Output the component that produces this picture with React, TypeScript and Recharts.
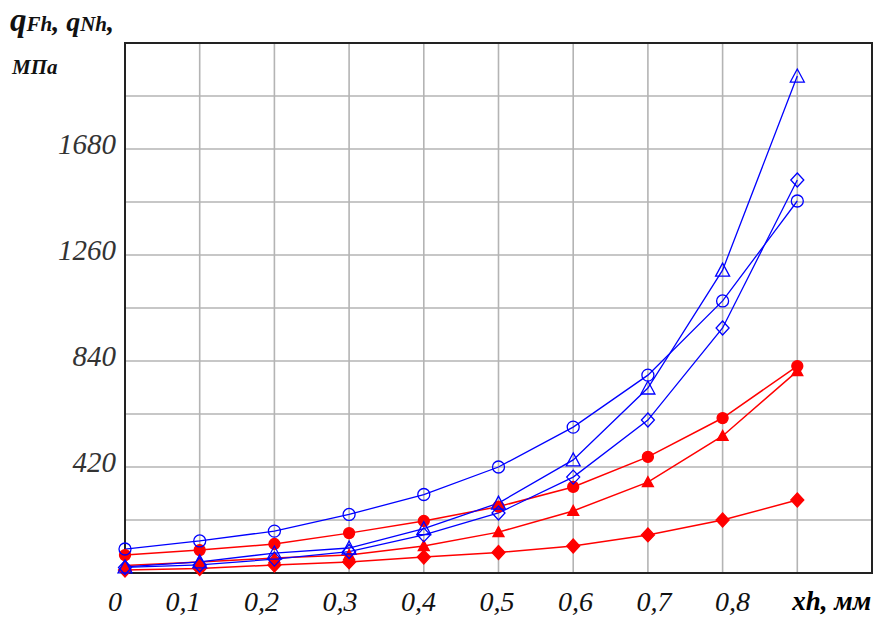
import * as React from "react"
import { LineChart, Line, XAxis, YAxis, CartesianGrid, ReferenceArea } from "recharts"

// xh, mm
const xValues = [0, 0.1, 0.2, 0.3, 0.4, 0.5, 0.6, 0.7, 0.8, 0.9]
const xTicks = [0, 0.1, 0.2, 0.3, 0.4, 0.5, 0.6, 0.7, 0.8, 0.9, 1.0]
const yTicks = [0, 210, 420, 630, 840, 1050, 1260, 1470, 1680, 1890, 2100]
const yLabels = [420, 840, 1260, 1680]

// blue (hollow markers)
const blueCircle = [95, 127, 166, 232, 311, 420, 578, 784, 1078, 1474]
const blueTriangle = [24, 44, 79, 99, 176, 277, 448, 733, 1200, 1969]
const blueDiamond = [22, 32, 55, 85, 151, 238, 380, 606, 971, 1557]
// red (filled markers)
const redCircle = [71, 91, 115, 158, 206, 263, 341, 460, 614, 820]
const redTriangle = [30, 44, 59, 71, 107, 162, 246, 360, 543, 800]
const redDiamond = [12, 18, 32, 44, 63, 81, 107, 151, 210, 289]

const chartData = xValues.map((x, i) => ({
    x,
    bc: blueCircle[i],
    bt: blueTriangle[i],
    bd: blueDiamond[i],
    rc: redCircle[i],
    rt: redTriangle[i],
    rd: redDiamond[i],
}))

const BLUE = "#0000ff"
const RED = "#ff0000"
const FONT = "'Liberation Serif', 'Times New Roman', serif"

type Kind = "circle" | "triangle" | "diamond"

const makeDot = (kind: Kind, color: string, filled: boolean) => (props: any) => {
    const { cx, cy, index } = props
    if (cx == null || cy == null) return <g key={index} />
    const fill = filled ? color : "none"
    const sw = 1.3
    if (kind === "circle") {
        return <circle key={index} cx={cx} cy={cy} r={filled ? 5.5 : 6} fill={fill} stroke={color} strokeWidth={sw} />
    }
    if (kind === "triangle") {
        const w = filled ? 5.5 : 7
        const pts = `${cx},${cy - w} ${cx - w},${cy + w - 1} ${cx + w},${cy + w - 1}`
        return <polygon key={index} points={pts} fill={fill} stroke={color} strokeWidth={sw} />
    }
    const pts = `${cx},${cy - 7} ${cx + 6.5},${cy} ${cx},${cy + 7} ${cx - 6.5},${cy}`
    return <polygon key={index} points={pts} fill={fill} stroke={color} strokeWidth={sw} />
}

const XTick = (props: any) => {
    const { x, y, payload, index } = props
    const v = payload.value
    if (v > 0.95) return <g />
    if (v > 0.85) {
        return (
            <text x={x + 74} y={y + 29} textAnchor="end" fontFamily={FONT} fontStyle="italic"
                fontWeight="bold" fontSize={27} fill="#000">
                xh, мм
            </text>
        )
    }
    const label = v === 0 ? "0" : v.toFixed(1).replace(".", ",")
    return (
        <text x={x - 3 + 3.8 * index} y={y + 30} textAnchor="end" fontFamily={FONT}
            fontStyle="italic" fontSize={28} fill="#111">
            {label}
        </text>
    )
}

const YTick = (props: any) => {
    const { x, y, payload } = props
    if (!yLabels.includes(payload.value)) return <g />
    return (
        <text x={x - 1} y={y + 5} textAnchor="end" fontFamily={FONT} fontStyle="italic"
            fontSize={29} fill="#333">
            {payload.value}
        </text>
    )
}

export default function App() {
    return (
        <div style={{ position: "fixed", left: 0, top: 0, width: 876, height: 617, background: "#fff" }}>
            <LineChart
                width={876}
                height={617}
                data={chartData}
                margin={{ top: 43, right: 4, left: 0, bottom: 0 }}
            >
                <CartesianGrid stroke="#b4b4b4" strokeWidth={1.6} />
                <XAxis
                    dataKey="x"
                    type="number"
                    domain={[0, 1]}
                    ticks={xTicks}
                    height={44}
                    tickLine={false}
                    axisLine={false}
                    tick={XTick}
                    interval={0}
                />
                <YAxis
                    type="number"
                    domain={[0, 2100]}
                    ticks={yTicks}
                    width={125}
                    tickLine={false}
                    axisLine={false}
                    tick={YTick}
                    interval={0}
                />
                <ReferenceArea x1={0} x2={1} y1={0} y2={2100} fill="none" stroke="#222" strokeWidth={2} />
                <Line dataKey="rd" stroke={RED} strokeWidth={1.5} dot={makeDot("diamond", RED, true)} isAnimationActive={false} />
                <Line dataKey="rt" stroke={RED} strokeWidth={1.5} dot={makeDot("triangle", RED, true)} isAnimationActive={false} />
                <Line dataKey="rc" stroke={RED} strokeWidth={1.5} dot={makeDot("circle", RED, true)} isAnimationActive={false} />
                <Line dataKey="bd" stroke={BLUE} strokeWidth={1.3} dot={makeDot("diamond", BLUE, false)} isAnimationActive={false} />
                <Line dataKey="bt" stroke={BLUE} strokeWidth={1.3} dot={makeDot("triangle", BLUE, false)} isAnimationActive={false} />
                <Line dataKey="bc" stroke={BLUE} strokeWidth={1.3} dot={makeDot("circle", BLUE, false)} isAnimationActive={false} />
            </LineChart>
            <svg width={200} height={90} style={{ position: "absolute", left: 0, top: 0 }}>
                <text x={10} y={31} fontFamily={FONT} fontStyle="italic" fontWeight="bold" fill="#111">
                    <tspan fontSize={33}>q</tspan>
                    <tspan fontSize={21}>Fh</tspan>
                    <tspan fontSize={28}>, q</tspan>
                    <tspan fontSize={21}>Nh</tspan>
                    <tspan fontSize={28}>,</tspan>
                </text>
                <text x={12} y={74} fontFamily={FONT} fontStyle="italic" fontWeight="bold" fontSize={21} fill="#111">
                    МПа
                </text>
            </svg>
        </div>
    )
}
